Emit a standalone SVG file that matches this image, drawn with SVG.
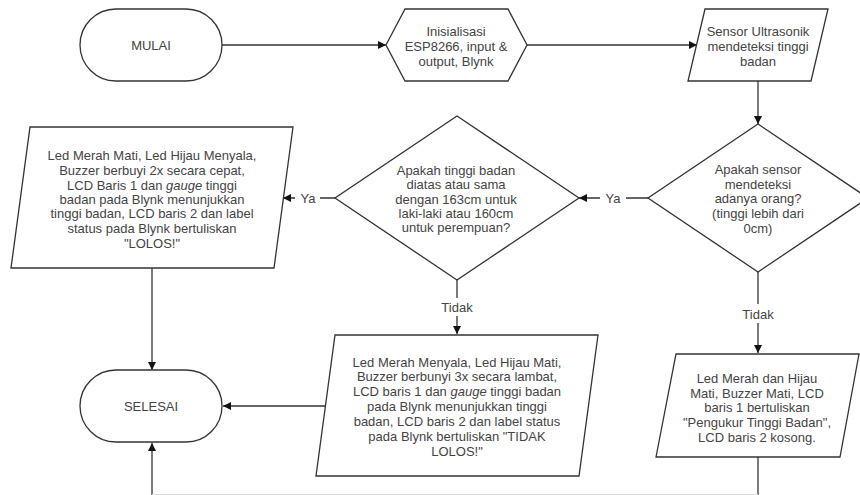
<svg xmlns="http://www.w3.org/2000/svg" width="860" height="495" viewBox="0 0 860 495">
<style>
.s{fill:#fff;stroke:#333;stroke-width:1.3}
.c{fill:none;stroke:#333;stroke-width:1.3}
text{font-family:"Liberation Sans",Arial,sans-serif;font-size:13px;fill:#444;text-anchor:middle;dominant-baseline:central}
.lbl{font-size:13px}
</style>
<defs>
<marker id="a" viewBox="0 0 10 10" refX="10" refY="5" markerWidth="8" markerHeight="8" markerUnits="userSpaceOnUse" orient="auto"><path d="M0,0 L10,5 L0,10 Z" fill="#111"/></marker>
</defs>
<rect width="860" height="495" fill="#fff"/>
<g id="connectors">
<path class="c" d="M222,45 H386" marker-end="url(#a)"/>
<path class="c" d="M527,45 H697" marker-end="url(#a)"/>
<path class="c" d="M758,81 V124" marker-end="url(#a)"/>
<path class="c" d="M648,198 H626 M600,198 H579" marker-end="url(#a)"/>
<path class="c" d="M335,198 H320 M295,198 H283" marker-end="url(#a)"/>
<path class="c" d="M457,280 V298 M457,316 V334" marker-end="url(#a)"/>
<path class="c" d="M758,272 V304 M758,323 V353" marker-end="url(#a)"/>
<path class="c" d="M152,268 V370" marker-end="url(#a)"/>
<path class="c" d="M326,406 H223" marker-end="url(#a)"/>
<path class="c" d="M758,457 V495"/>
<path class="c" d="M152,495 V443" marker-end="url(#a)"/>
<path d="M152,494.5 H758" stroke="#ddd" stroke-width="1" fill="none"/>
<text x="613" y="198">Ya</text>
<text x="308" y="198">Ya</text>
<text x="457" y="307">Tidak</text>
<text x="758" y="314">Tidak</text>
</g>
<g id="mulai">
<rect class="s" x="80" y="9" width="142" height="72" rx="36" ry="36"/>
<text x="151" y="45">MULAI</text>
</g>
<g id="init">
<polygon class="s" points="386,45 405,9 508,9 527,45 508,81 405,81"/>
<text x="456" y="31">Inisialisasi</text>
<text x="456" y="46">ESP8266, input &amp;</text>
<text x="456" y="61">output, Blynk</text>
</g>
<g id="sensor">
<polygon class="s" points="705,9 828,9 811,81 688,81"/>
<text x="758" y="31">Sensor Ultrasonik</text>
<text x="758" y="46">mendeteksi tinggi</text>
<text x="758" y="61">badan</text>
</g>
<g id="decision1">
<polygon class="s" points="758,124 868,198 758,272 648,198"/>
<text x="758" y="169">Apakah sensor</text>
<text x="758" y="184">mendeteksi</text>
<text x="758" y="198">adanya orang?</text>
<text x="758" y="213">(tinggi lebih dari</text>
<text x="758" y="228">0cm)</text>
</g>
<g id="decision2">
<polygon class="s" points="457,116 579,198 457,280 335,198"/>
<text x="456" y="170">Apakah tinggi badan</text>
<text x="456" y="184">diatas atau sama</text>
<text x="456" y="199">dengan 163cm untuk</text>
<text x="456" y="213">laki-laki atau 160cm</text>
<text x="456" y="227">untuk perempuan?</text>
</g>
<g id="lolos">
<polygon class="s" points="30,127 293,127 274,268 11,268"/>
<text x="152" y="155">Led Merah Mati, Led Hijau Menyala,</text>
<text x="152" y="170">Buzzer berbuyi 2x secara cepat,</text>
<text x="152" y="185">LCD Baris 1 dan <tspan font-style="italic">gauge</tspan> tinggi</text>
<text x="152" y="199">badan pada Blynk menunjukkan</text>
<text x="152" y="213">tinggi badan, LCD baris 2 dan label</text>
<text x="152" y="228">status pada Blynk bertuliskan</text>
<text x="152" y="243">"LOLOS!"</text>
</g>
<g id="tidaklolos">
<polygon class="s" points="335,335 598,335 579,476 316,476"/>
<text x="457" y="362">Led Merah Menyala, Led Hijau Mati,</text>
<text x="457" y="376">Buzzer berbunyi 3x secara lambat,</text>
<text x="457" y="391">LCD baris 1 dan <tspan font-style="italic">gauge</tspan> tinggi badan</text>
<text x="457" y="406">pada Blynk menunjukkan tinggi</text>
<text x="457" y="421">badan, LCD baris 2 dan label status</text>
<text x="457" y="436">pada Blynk bertuliskan "TIDAK</text>
<text x="457" y="451">LOLOS!"</text>
</g>
<g id="idle">
<polygon class="s" points="676,354 859,354 840,457 656,457"/>
<text x="757" y="378">Led Merah dan Hijau</text>
<text x="757" y="393">Mati, Buzzer Mati, LCD</text>
<text x="757" y="407">baris 1 bertuliskan</text>
<text x="757" y="422">"Pengukur Tinggi Badan",</text>
<text x="757" y="437">LCD baris 2 kosong.</text>
</g>
<g id="selesai">
<rect class="s" x="80" y="370" width="142" height="72" rx="36" ry="36"/>
<text x="151" y="406">SELESAI</text>
</g>
</svg>
